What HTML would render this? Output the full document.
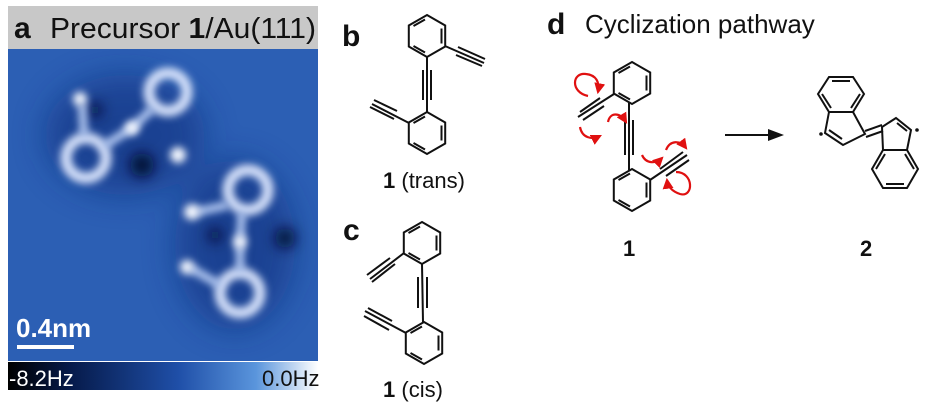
<!DOCTYPE html>
<html><head><style>
html,body{margin:0;padding:0;background:#fff;width:928px;height:403px;overflow:hidden}
svg{display:block}
text{font-family:"Liberation Sans",sans-serif}
</style></head><body>
<svg width="928" height="403" viewBox="0 0 928 403" xmlns="http://www.w3.org/2000/svg">
<defs>
<filter id="b6" x="-50%" y="-50%" width="200%" height="200%"><feGaussianBlur stdDeviation="7"/></filter>
<filter id="b3" x="-50%" y="-50%" width="200%" height="200%"><feGaussianBlur stdDeviation="4"/></filter>
<filter id="b12" x="-50%" y="-50%" width="200%" height="200%"><feGaussianBlur stdDeviation="16"/></filter>
<linearGradient id="cb" x1="0" x2="1" y1="0" y2="0">
<stop offset="0" stop-color="#000"/><stop offset="0.2" stop-color="#061a4a"/><stop offset="0.55" stop-color="#1f4fa8"/><stop offset="0.8" stop-color="#5a95dc"/><stop offset="1" stop-color="#fff"/>
</linearGradient>
<clipPath id="img"><rect x="8" y="49" width="310" height="312"/></clipPath>
<g id="ring" fill="none" stroke="#111" stroke-width="2">
<polygon points="0,-21 18.2,-10.5 18.2,10.5 0,21 -18.2,10.5 -18.2,-10.5"/>
<line x1="14.5" y1="-7.5" x2="14.5" y2="7.5"/>
<line x1="-2" y1="16.5" x2="-13.5" y2="10"/>
<line x1="-13.5" y1="-10" x2="-2" y2="-16.5"/>
</g>
<marker id="ah" viewBox="0 0 10 10" refX="8" refY="5" markerWidth="5" markerHeight="5" orient="auto"><path d="M0,0 L10,5 L0,10 z" fill="#e01010"/></marker>
</defs>

<!-- Panel a -->
<rect x="8" y="6" width="310" height="43" fill="#c8c8c8"/>
<text x="14" y="38" font-size="30" font-weight="bold" fill="#111">a</text>
<text x="50" y="38" font-size="29" fill="#111" textLength="266" lengthAdjust="spacingAndGlyphs">Precursor <tspan font-weight="bold">1</tspan>/Au(111)</text>
<g clip-path="url(#img)">
<rect x="8" y="49" width="310" height="312" fill="#2c5fb4"/>
<g filter="url(#b12)" fill="#0e2c78" opacity="0.55">
<ellipse cx="125" cy="135" rx="80" ry="60"/>
<ellipse cx="235" cy="245" rx="60" ry="85"/>
</g>
<g filter="url(#b6)" fill="#020c30">
<circle cx="142" cy="165" r="12"/><circle cx="285" cy="238" r="10"/><circle cx="215" cy="235" r="7"/><circle cx="95" cy="110" r="7"/>
</g>
<g filter="url(#b3)" fill="none" stroke="#dfe9ff" stroke-width="11" opacity="0.95">
<circle cx="86" cy="158" r="20"/><circle cx="168" cy="92" r="19"/>
<circle cx="248" cy="190" r="20"/><circle cx="240" cy="293" r="20"/>
</g>
<g filter="url(#b3)" fill="none" stroke="#b8cdf5" stroke-width="8">
<line x1="104" y1="146" x2="132" y2="128"/><line x1="132" y1="128" x2="153" y2="108"/>
<line x1="82" y1="104" x2="84" y2="136"/>
<line x1="228" y1="205" x2="196" y2="212"/><line x1="242" y1="212" x2="240" y2="240"/><line x1="240" y1="245" x2="240" y2="272"/>
<line x1="220" y1="285" x2="190" y2="268"/>
</g>
<g filter="url(#b3)" fill="#f4f8ff">
<circle cx="80" cy="99" r="7"/><circle cx="132" cy="128" r="7"/><circle cx="178" cy="155" r="8"/>
<circle cx="192" cy="212" r="8"/><circle cx="240" cy="242" r="7"/><circle cx="187" cy="267" r="7"/>
</g>
<text x="16" y="337" font-size="26" font-weight="bold" fill="#fff">0.4nm</text>
<rect x="17" y="345" width="57" height="4" fill="#fff"/>
</g>
<rect x="8" y="362" width="310" height="28" fill="url(#cb)"/>
<text x="9" y="386" font-size="22" fill="#fff">-8.2Hz</text>
<text x="262" y="386" font-size="22" fill="#111">0.0Hz</text>

<!-- Panel b -->
<text x="342" y="46" font-size="30" font-weight="bold" fill="#111">b</text>
<use href="#ring" transform="translate(427,36)"/>
<use href="#ring" transform="translate(427,133)"/>
<g stroke="#111" stroke-width="2" fill="none">
<line x1="427" y1="57" x2="427" y2="112"/><line x1="423" y1="70" x2="423" y2="100"/><line x1="431" y1="70" x2="431" y2="100"/>
<line x1="445" y1="46" x2="484" y2="63"/><line x1="458" y1="47" x2="485" y2="59"/><line x1="456" y1="55" x2="482" y2="66"/>
<line x1="409" y1="123" x2="372" y2="104"/><line x1="397" y1="111" x2="374" y2="100"/><line x1="394" y1="119" x2="370" y2="107"/>
</g>
<text x="383" y="188" font-size="22" fill="#111"><tspan font-weight="bold">1</tspan> (trans)</text>

<!-- Panel c -->
<text x="343" y="240" font-size="30" font-weight="bold" fill="#111">c</text>
<use href="#ring" transform="translate(422,243)"/>
<use href="#ring" transform="translate(424,343)"/>
<g stroke="#111" stroke-width="2" fill="none">
<line x1="422" y1="264" x2="423" y2="322"/><line x1="418" y1="277" x2="418" y2="308"/><line x1="427" y1="277" x2="427" y2="308"/>
<line x1="404" y1="253" x2="370" y2="279"/><line x1="390" y1="258" x2="367" y2="275"/><line x1="395" y1="264" x2="372" y2="282"/>
<line x1="406" y1="333" x2="365" y2="311"/><line x1="392" y1="321" x2="368" y2="308"/><line x1="389" y1="330" x2="364" y2="316"/>
</g>
<text x="383" y="397" font-size="22" fill="#111"><tspan font-weight="bold">1</tspan> (cis)</text>

<!-- Panel d -->
<text x="547" y="34" font-size="30" font-weight="bold" fill="#111">d</text>
<text x="585" y="33" font-size="26" fill="#111">Cyclization pathway</text>
<use href="#ring" transform="translate(632,83)"/>
<use href="#ring" transform="translate(632,190)"/>
<g stroke="#111" stroke-width="2" fill="none">
<line x1="629" y1="103" x2="629" y2="170"/><line x1="625" y1="120" x2="625" y2="155"/><line x1="633" y1="120" x2="633" y2="155"/>
<line x1="614" y1="94" x2="578" y2="117"/><line x1="600" y1="98" x2="580" y2="112"/><line x1="604" y1="106" x2="583" y2="120"/>
<line x1="650" y1="180" x2="687" y2="155"/><line x1="660" y1="169" x2="683" y2="152"/><line x1="666" y1="176" x2="689" y2="160"/>
</g>
<g stroke="#e01010" stroke-width="2.2" fill="none" marker-end="url(#ah)">
<path d="M588,96 C570,92 572,72 586,74 C596,75 600,82 598,92"/>
<path d="M580,127 C582,138 592,140 600,136"/>
<path d="M608,122 C610,112 620,112 626,122"/>
<path d="M642,155 C646,164 656,164 662,158"/>
<path d="M666,150 C670,140 680,140 686,148"/>
<path d="M676,172 C694,172 694,198 680,194 C674,192 668,188 667,180"/>
</g>
<text x="623" y="256" font-size="22" font-weight="bold" fill="#111">1</text>

<line x1="725" y1="135" x2="770" y2="135" stroke="#111" stroke-width="2"/>
<polygon points="768,129 784,135 768,141" fill="#111"/>

<g stroke="#111" stroke-width="2" fill="none">
<polygon points="829,77 853,77 864,94 853,112 829,112 818,94"/>
<line x1="832" y1="81" x2="850" y2="81"/><line x1="860" y1="94" x2="851" y2="108"/><line x1="822" y1="94" x2="831" y2="108"/>
<polyline points="829,112 825,133 843,145 865,134 853,112"/>
<line x1="829" y1="130" x2="842" y2="139"/>
<!-- right half -->
<polyline points="883,150 882,127 896,118 911,130 907,150"/>
<line x1="897" y1="123" x2="907" y2="131"/>
<polygon points="883,150 907,150 918,169 907,188 883,188 872,169"/>
<line x1="886" y1="184" x2="904" y2="184"/><line x1="914" y1="169" x2="905" y2="154"/><line x1="876" y1="169" x2="885" y2="154"/>
<line x1="865" y1="131" x2="882" y2="125"/>
<line x1="866" y1="137" x2="883" y2="131"/>
</g>
<circle cx="821" cy="134" r="1.8" fill="#111"/><circle cx="917" cy="130" r="1.8" fill="#111"/>
<text x="860" y="256" font-size="22" font-weight="bold" fill="#111">2</text>
</svg>
</body></html>
